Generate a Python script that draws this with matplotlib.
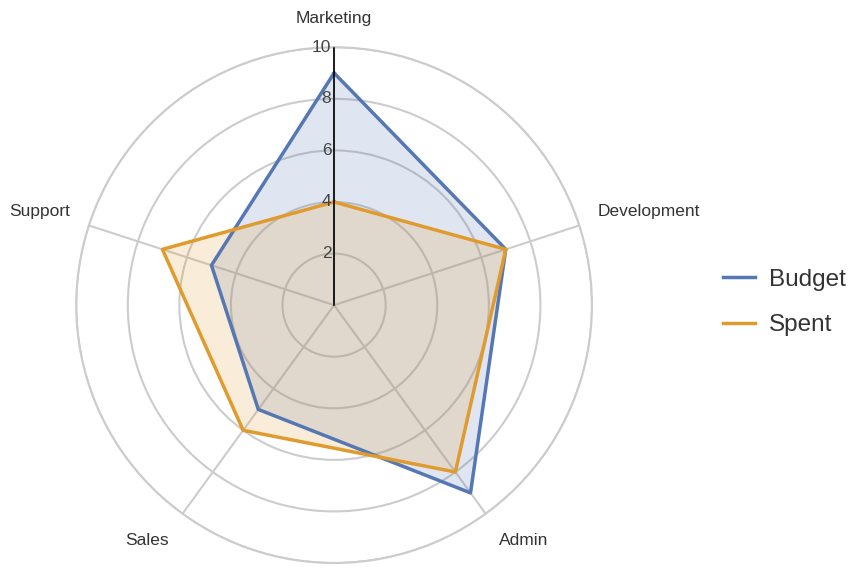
import numpy as np
import matplotlib.pyplot as plt
import matplotlib as mpl

mpl.rc('font', **{'family': 'sans-serif', 'sans-serif': ['Liberation Sans', 'DejaVu Sans']})

# data
categories = ['Marketing', 'Development', 'Admin', 'Sales', 'Support']
budget = [9, 7, 9, 5, 5]
spent = [4, 7, 8, 6, 7]
rticks = [2, 4, 6, 8, 10]

series = [('Budget', budget, '#5577B3'), ('Spent', spent, '#E09B2E')]

fig = plt.figure(figsize=(8.56, 5.68), dpi=100)
ax = fig.add_axes([0.0888, 0.0088, 0.603, 0.908], projection='polar')
ax.set_theta_zero_location('N')
ax.set_theta_direction(-1)

n = len(categories)
angles = np.arange(n) * 2 * np.pi / n

ax.set_ylim(0, 10)
ax.set_yticks(rticks)
ax.set_yticklabels([])
ax.set_xticks(angles)
ax.set_xticklabels([])
ax.grid(True, color='#cccccc', linewidth=1.5)
ax.spines['polar'].set_visible(True)
ax.spines['polar'].set_color('#cccccc')
ax.spines['polar'].set_linewidth(1.5)
ax.set_rlabel_position(0)

for name, vals, col in series:
    th = np.append(angles, angles[0])
    rr = np.append(vals, vals[0])
    ax.fill(th, rr, color=col, alpha=0.18, zorder=2)
    ax.plot(th, rr, color=col, linewidth=2.5, label=name, zorder=3)

# radial axis line and labels
ax.plot([0, 0], [0, 10], color='black', linewidth=1.2, zorder=4)
for t in rticks:
    ax.annotate(str(t), xy=(0, t), xytext=(-2, 0), textcoords='offset points',
                ha='right', va='center', fontsize=12.5, color='#444444', zorder=5)

# category labels
align = [('center', 'bottom', 10.82), ('left', 'bottom', 10.75), ('left', 'top', 10.9),
         ('right', 'top', 10.9), ('right', 'bottom', 10.75)]
for a, lab, (ha, va, r) in zip(angles, categories, align):
    ax.text(a, r, lab, ha=ha, va=va, fontsize=12.5, color='#333333')

leg = ax.legend(loc='center left', bbox_to_anchor=(1.212, 0.505), frameon=False,
                fontsize=17.5, handlelength=1.3, handletextpad=0.6,
                labelspacing=0.95)
for t in leg.get_texts():
    t.set_color('#333333')

fig.savefig('out.png', dpi=100)
